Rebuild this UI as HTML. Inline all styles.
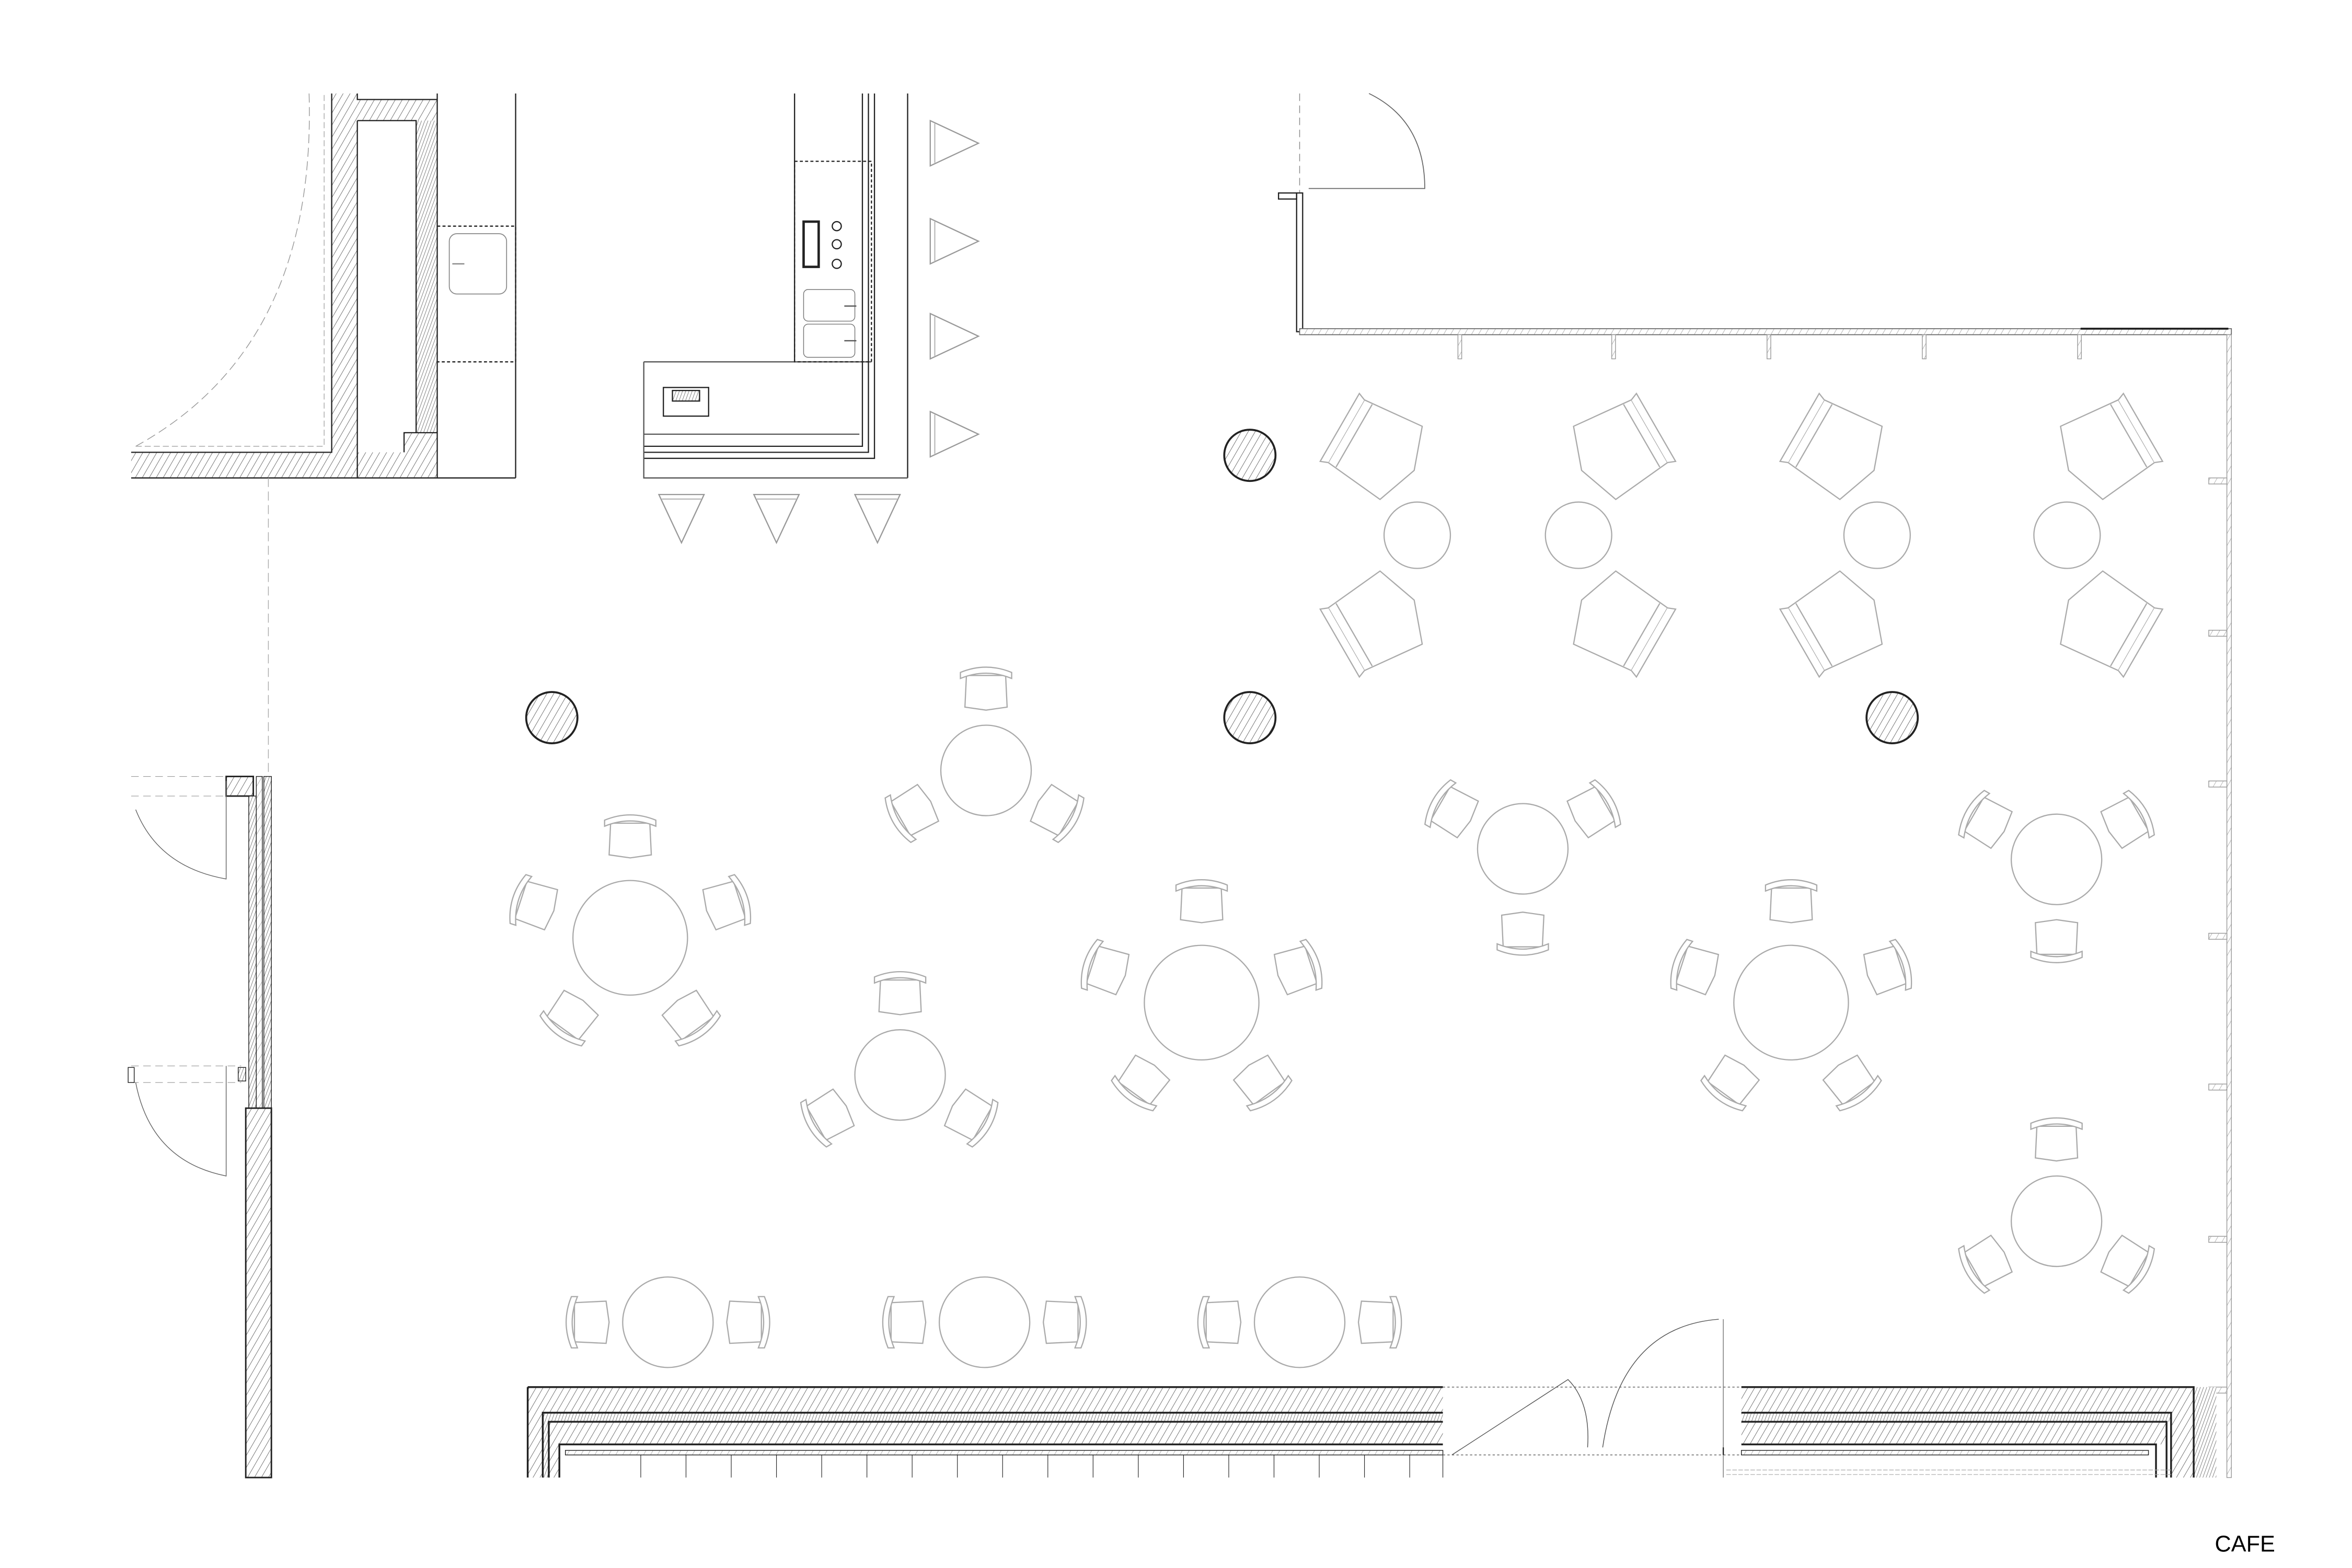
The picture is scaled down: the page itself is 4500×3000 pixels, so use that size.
<!DOCTYPE html>
<html><head><meta charset="utf-8"><style>
html,body{margin:0;padding:0;background:#fff;}
svg{display:block;}
</style></head><body>
<svg width="4500" height="3000" viewBox="0 0 1560 1040" xmlns="http://www.w3.org/2000/svg">
<defs>
<pattern id="h" width="4" height="4" patternUnits="userSpaceOnUse" patternTransform="rotate(30)">
<rect width="4" height="4" fill="#fff"/><line x1="0" y1="0" x2="0" y2="4" stroke="#444" stroke-width="0.5"/></pattern>
<pattern id="hl" width="4" height="4" patternUnits="userSpaceOnUse" patternTransform="rotate(30)">
<rect width="4" height="4" fill="#fff"/><line x1="0" y1="0" x2="0" y2="4" stroke="#999" stroke-width="0.5"/></pattern>
<pattern id="hd" width="2" height="2" patternUnits="userSpaceOnUse" patternTransform="rotate(20)">
<rect width="2" height="2" fill="#fff"/><line x1="0" y1="0" x2="0" y2="2" stroke="#555" stroke-width="0.5"/></pattern>
<g id="ch" fill="#fff" stroke="#aaa" stroke-width="0.8">
<path d="M-13,-10 L13,-10 L14,11 L0,13 L-14,11 Z"/>
<path d="M-17,-8 L-17,-12 Q0,-19 17,-12 L17,-8 Q0,-15 -17,-8 Z"/>
</g>
<g id="lc" fill="#fff" stroke="#aaa" stroke-width="0.8">
<path d="M-24,-22 L24,-22 L28,20 L0,30 L-28,20 Z"/>
<path d="M-24,-16 L24,-16"/>
<path d="M-24,-22 L-26,-27 L26,-27 L24,-22"/>
</g>
<g id="tri" fill="#fff" stroke="#999" stroke-width="0.8">
<path d="M-15,-16 L15,-16 L0,16 Z"/><path d="M-13,-13 L13,-13" stroke="#bbb"/>
</g>
</defs>

<g fill="none" stroke="#222" stroke-width="0.8">
<rect x="220" y="62" width="17" height="238" fill="url(#h)" stroke="none"/>
<rect x="87" y="300" width="203" height="17" fill="url(#h)" stroke="none"/>
<rect x="237" y="66" width="53" height="14" fill="url(#h)" stroke="none"/>
<rect x="268" y="287" width="22" height="13" fill="url(#h)" stroke="none"/>
<rect x="276" y="80" width="14" height="207" fill="url(#hd)" stroke="none"/>
<path d="M220,62 V300 H87"/>
<path d="M237,62 V66 H290 M237,80 H276 V287 M237,80 V317 M268,300 V287 H290 M290,62 V317 M87,317 H290"/>
<path d="M342,62 V317 M290,317 H342"/>
<path d="M205,62 Q210,230 90,296" stroke="#999" stroke-dasharray="6 3" stroke-width="0.5"/>
<path d="M90,296 H215 V62" stroke="#aaa" stroke-dasharray="4 2" stroke-width="0.5"/>
<path d="M178,317 V980" stroke="#aaa" stroke-dasharray="6 3" stroke-width="0.5"/>
<path d="M290,150 H342 V240 H290" stroke-dasharray="2 1.5"/>
<rect x="298" y="155" width="38" height="40" rx="5" stroke="#888" stroke-width="0.6"/>
<path d="M300,175 h8" stroke="#888"/>

<path d="M527,62 V240 M602,62 V317 M572,62 V296 H427 M576,62 V300 H427 M580,62 V304 H427"/>
<path d="M427,240 H578 M427,240 V317 H602 M427,288 H570" stroke="#555"/>
<rect x="527" y="107" width="51" height="133" stroke-dasharray="2 1.5"/>
<rect x="533" y="147" width="10" height="30" stroke-width="1.6"/>
<circle cx="555" cy="150" r="3"/><circle cx="555" cy="162" r="3"/><circle cx="555" cy="175" r="3"/>
<rect x="533" y="192" width="34" height="21" rx="3" stroke="#777" stroke-width="0.5"/>
<rect x="533" y="215" width="34" height="22" rx="3" stroke="#777" stroke-width="0.5"/>
<path d="M560,203 h8 M560,226 h8" stroke="#555"/>
<rect x="440" y="257" width="30" height="19" stroke-width="0.8"/>
<rect x="446" y="259" width="18" height="7" fill="url(#hd)"/>

<use href="#tri" transform="translate(633,95) rotate(-90)"/>
<use href="#tri" transform="translate(633,160) rotate(-90)"/>
<use href="#tri" transform="translate(633,223) rotate(-90)"/>
<use href="#tri" transform="translate(633,288) rotate(-90)"/>
<use href="#tri" transform="translate(452,344)"/>
<use href="#tri" transform="translate(515,344)"/>
<use href="#tri" transform="translate(582,344)"/>

<circle cx="829" cy="302" r="17" fill="url(#h)" stroke-width="1.3"/>
<circle cx="366" cy="476" r="17" fill="url(#h)" stroke-width="1.3"/>
<circle cx="829" cy="476" r="17" fill="url(#h)" stroke-width="1.3"/>
<circle cx="1255" cy="476" r="17" fill="url(#h)" stroke-width="1.3"/>

<path d="M908,62 Q945,80 945,125 H868" stroke="#666" stroke-width="0.6"/>
<path d="M862,62 V128" stroke="#888" stroke-width="0.5" stroke-dasharray="5 3"/>
<rect x="860" y="128" width="4" height="92" fill="#fff"/>
<rect x="848" y="128" width="12" height="4"/>
<rect x="862" y="218" width="618" height="4" fill="url(#hl)" stroke="#666" stroke-width="0.6"/>
<path d="M1380,218 H1478" stroke-width="1.3"/>
<g fill="url(#hl)" stroke="#999" stroke-width="0.5">
<rect x="967" y="222" width="2.5" height="16"/><rect x="1069" y="222" width="2.5" height="16"/>
<rect x="1172" y="222" width="2.5" height="16"/><rect x="1275" y="222" width="2.5" height="16"/>
<rect x="1378" y="222" width="2.5" height="16"/>
<rect x="1477" y="222" width="3" height="758"/>
<rect x="1465" y="317" width="12" height="4"/><rect x="1465" y="418" width="12" height="4"/>
<rect x="1465" y="518" width="12" height="4"/><rect x="1465" y="619" width="12" height="4"/>
<rect x="1465" y="719" width="12" height="4"/><rect x="1465" y="820" width="12" height="4"/>
<rect x="1465" y="920" width="12" height="4"/>
</g>

<rect x="150" y="515" width="18" height="13" fill="url(#h)" stroke-width="1"/>
<rect x="165" y="528" width="5" height="207" fill="url(#hd)" stroke-width="0.5"/>
<rect x="170" y="515" width="4" height="222" fill="url(#hl)" stroke-width="0.5"/>
<rect x="175" y="515" width="5" height="220" fill="url(#hd)" stroke-width="0.5"/>
<rect x="163" y="735" width="17" height="245" fill="url(#h)" stroke-width="1"/>
<path d="M87,515 H150 M87,528 H150 M87,707 H160 M87,718 H160" stroke="#999" stroke-width="0.4" stroke-dasharray="5 3"/>
<path d="M90,537 Q105,575 150,583 V518" stroke="#666" stroke-width="0.5"/>
<rect x="85" y="708" width="4" height="10" stroke-width="0.5"/>
<path d="M90,718 Q100,770 150,780 V707" stroke="#666" stroke-width="0.5"/>
<rect x="158" y="708" width="5" height="9" fill="url(#hd)" stroke-width="0.5"/>

<rect x="350" y="920" width="607" height="17" fill="url(#h)" stroke="none"/>
<rect x="360" y="937" width="597" height="6" fill="url(#hd)" stroke="none"/>
<rect x="362" y="943" width="595" height="15" fill="url(#h)" stroke="none"/>
<rect x="350" y="920" width="10" height="60" fill="url(#h)" stroke="none"/>
<rect x="360" y="937" width="4" height="43" fill="url(#hd)" stroke="none"/>
<rect x="364" y="943" width="7" height="37" fill="url(#h)" stroke="none"/>
<path d="M350,920 H957 M360,980 V937 H957 M364,980 V943 H957 M371,980 V958 H957 M350,920 V980" stroke-width="1.2"/>
<rect x="375" y="962" width="582" height="3" fill="url(#hl)" stroke-width="0.5"/>
<path d="M425,965 V980 M455,965 V980 M485,965 V980 M515,965 V980 M545,965 V980 M575,965 V980 M605,965 V980 M635,965 V980 M665,965 V980 M695,965 V980 M725,965 V980 M755,965 V980 M785,965 V980 M815,965 V980 M845,965 V980 M875,965 V980 M905,965 V980 M935,965 V980 M957,965 V980" stroke-width="0.4"/>

<rect x="1155" y="920" width="300" height="17" fill="url(#h)" stroke="none"/>
<rect x="1155" y="937" width="285" height="6" fill="url(#hd)" stroke="none"/>
<rect x="1155" y="943" width="282" height="15" fill="url(#h)" stroke="none"/>
<rect x="1440" y="920" width="15" height="60" fill="url(#h)" stroke="none"/>
<rect x="1455" y="920" width="15" height="60" fill="url(#hd)" stroke="none"/>
<path d="M1155,920 H1455 V980 M1155,937 H1440 V980 M1155,943 H1437 V980 M1155,958 H1430 V980" stroke-width="1.2"/>
<rect x="1155" y="962" width="270" height="3" fill="url(#hl)" stroke-width="0.5"/>

<path d="M957,920 H1155 M957,965 H1155" stroke="#666" stroke-width="0.5" stroke-dasharray="1.5 1.5"/>
<path d="M1143,875 V980" stroke="#777" stroke-width="0.5"/>
<path d="M1140,875 Q1075,880 1063,960" stroke="#555" stroke-width="0.5"/>
<path d="M963,965 L1040,915 Q1055,930 1053,960" stroke="#555" stroke-width="0.5"/>
<path d="M1143,960 V965" stroke-width="0.8"/>
<path d="M1145,975 H1440 M1145,978 H1440" stroke="#aaa" stroke-width="0.4" stroke-dasharray="3 1"/>
</g>

<g fill="#fff" stroke="#aaa" stroke-width="0.8">
<circle cx="940" cy="355" r="22"/><circle cx="1047" cy="355" r="22"/>
<circle cx="1245" cy="355" r="22"/><circle cx="1371" cy="355" r="22"/>
</g>
<use href="#lc" transform="translate(912,297) rotate(-60)"/>
<use href="#lc" transform="translate(912,413) rotate(-120)"/>
<use href="#lc" transform="translate(1075,297) rotate(60)"/>
<use href="#lc" transform="translate(1075,413) rotate(120)"/>
<use href="#lc" transform="translate(1217,297) rotate(-60)"/>
<use href="#lc" transform="translate(1217,413) rotate(-120)"/>
<use href="#lc" transform="translate(1398,297) rotate(60)"/>
<use href="#lc" transform="translate(1398,413) rotate(120)"/>

<g fill="#fff" stroke="#aaa" stroke-width="0.8">
<circle cx="654" cy="511" r="30"/>
<circle cx="418" cy="622" r="38"/>
<circle cx="797" cy="665" r="38"/>
<circle cx="597" cy="713" r="30"/>
<circle cx="1010" cy="563" r="30"/>
<circle cx="1188" cy="665" r="38"/>
<circle cx="1364" cy="570" r="30"/>
<circle cx="1364" cy="810" r="30"/>
<circle cx="443" cy="877" r="30"/><circle cx="653" cy="877" r="30"/><circle cx="862" cy="877" r="30"/>
</g>
<use href="#ch" transform="translate(654,458)"/>
<use href="#ch" transform="translate(606,538) rotate(-120)"/>
<use href="#ch" transform="translate(700,538) rotate(120)"/>
<use href="#ch" transform="translate(597,660)"/>
<use href="#ch" transform="translate(550,740) rotate(-120)"/>
<use href="#ch" transform="translate(643,740) rotate(120)"/>
<use href="#ch" transform="translate(964,538) rotate(-60)"/>
<use href="#ch" transform="translate(1056,538) rotate(60)"/>
<use href="#ch" transform="translate(1010,618) rotate(180)"/>
<use href="#ch" transform="translate(1318,545) rotate(-60)"/>
<use href="#ch" transform="translate(1410,545) rotate(60)"/>
<use href="#ch" transform="translate(1364,623) rotate(180)"/>
<use href="#ch" transform="translate(1364,757)"/>
<use href="#ch" transform="translate(1318,837) rotate(-120)"/>
<use href="#ch" transform="translate(1410,837) rotate(120)"/>
<use href="#ch" transform="translate(418,556)"/>
<use href="#ch" transform="translate(355,600) rotate(-72)"/>
<use href="#ch" transform="translate(481,600) rotate(72)"/>
<use href="#ch" transform="translate(379,674) rotate(-144)"/>
<use href="#ch" transform="translate(457,674) rotate(144)"/>
<use href="#ch" transform="translate(797,599)"/>
<use href="#ch" transform="translate(734,643) rotate(-72)"/>
<use href="#ch" transform="translate(860,643) rotate(72)"/>
<use href="#ch" transform="translate(758,717) rotate(-144)"/>
<use href="#ch" transform="translate(836,717) rotate(144)"/>
<use href="#ch" transform="translate(1188,599)"/>
<use href="#ch" transform="translate(1125,643) rotate(-72)"/>
<use href="#ch" transform="translate(1251,643) rotate(72)"/>
<use href="#ch" transform="translate(1149,717) rotate(-144)"/>
<use href="#ch" transform="translate(1227,717) rotate(144)"/>
<use href="#ch" transform="translate(391,877) rotate(-90)"/>
<use href="#ch" transform="translate(495,877) rotate(90)"/>
<use href="#ch" transform="translate(601,877) rotate(-90)"/>
<use href="#ch" transform="translate(705,877) rotate(90)"/>
<use href="#ch" transform="translate(810,877) rotate(-90)"/>
<use href="#ch" transform="translate(914,877) rotate(90)"/>

<text x="1469" y="1029" font-family="Liberation Sans, sans-serif" font-size="15" fill="#000">CAFE</text>
</svg>
</body></html>
